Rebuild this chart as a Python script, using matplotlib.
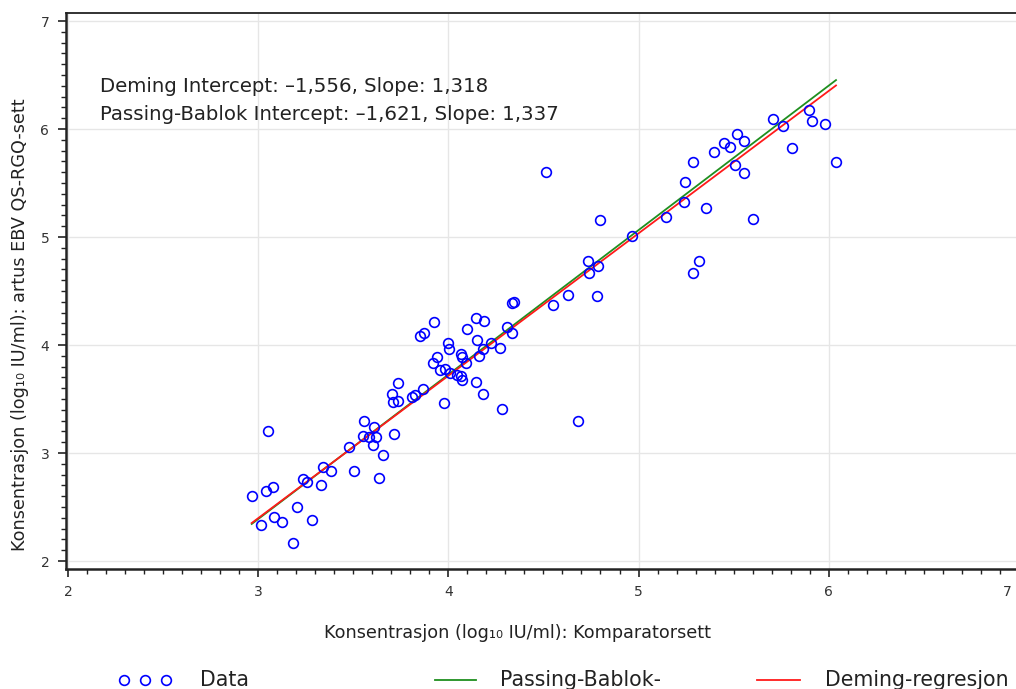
import numpy as np
import matplotlib
matplotlib.use("Agg")
import matplotlib.pyplot as plt
from matplotlib.lines import Line2D
from matplotlib.transforms import ScaledTranslation

# data (log10 IU/ml)
comp_x = [3.733, 3.703, 3.710, 3.733, 3.810, 3.824, 3.868, 3.977, 4.070, 4.145,
          3.053, 3.558, 3.610, 3.549, 3.584, 3.619, 3.602, 3.714, 3.479, 3.654,
          3.339, 3.382, 3.502, 3.635, 3.237, 3.255, 3.328, 3.079, 3.042, 2.965,
          3.202, 3.083, 3.123, 3.281, 3.013, 3.184, 4.347, 4.335, 4.549, 4.628,
          4.780, 3.924, 3.851, 3.873, 4.144, 4.189, 4.099, 4.307, 4.336, 3.998,
          4.003, 4.149, 4.223, 4.180, 4.271, 3.938, 3.917, 4.068, 4.072, 4.159,
          4.093, 3.956, 3.981, 4.008, 4.047, 4.068, 4.184, 4.282, 4.682, 4.513,
          4.797, 4.733, 4.785, 4.738, 5.898, 5.914, 5.980, 5.709, 5.759, 5.806,
          6.039, 5.520, 5.450, 5.481, 5.555, 5.399, 5.287, 5.508, 5.553, 5.246,
          5.239, 5.146, 5.354, 5.604, 4.966, 5.320, 5.288]
artus_y = [3.651, 3.546, 3.469, 3.484, 3.521, 3.537, 3.590, 3.466, 3.676, 3.657,
           3.204, 3.294, 3.244, 3.157, 3.151, 3.145, 3.074, 3.176, 3.053, 2.981,
           2.868, 2.836, 2.836, 2.771, 2.762, 2.731, 2.704, 2.682, 2.648, 2.602,
           2.497, 2.410, 2.361, 2.380, 2.333, 2.164, 4.401, 4.386, 4.368, 4.463,
           4.454, 4.213, 4.086, 4.114, 4.250, 4.219, 4.145, 4.169, 4.108, 4.021,
           3.963, 4.046, 4.021, 3.963, 3.969, 3.886, 3.831, 3.917, 3.886, 3.901,
           3.831, 3.769, 3.775, 3.738, 3.722, 3.716, 3.546, 3.410, 3.299, 5.605,
           5.155, 4.781, 4.731, 4.669, 6.176, 6.074, 6.049, 6.095, 6.028, 5.821,
           5.697, 5.954, 5.873, 5.836, 5.886, 5.784, 5.694, 5.667, 5.593, 5.506,
           5.324, 5.185, 5.269, 5.169, 5.006, 4.778, 4.667]

deming_icpt, deming_slope = -1.556, 1.318
pb_icpt, pb_slope = -1.621, 1.337
ticks = [2, 3, 4, 5, 6, 7]

W, H = 1016, 689
fig = plt.figure(figsize=(W/100, H/100), dpi=100)
ax = fig.add_axes([66/W, 1 - 568.7/H, 954/W, 556.2/H])

xs = np.array([min(comp_x), max(comp_x)])
ax.plot(xs, pb_icpt + pb_slope*xs, color="#1f8f1f", lw=1.3, zorder=3)
ax.plot(xs, deming_icpt + deming_slope*xs, color="#ff1a1a", lw=1.3, zorder=4)
ax.plot(comp_x, artus_y, 'o', mfc='none', mec='#0000ff', ms=7, mew=1.2, zorder=5)

ax.set_xlim(1.988, 7.007)
ax.set_ylim(1.929, 7.079)
ax.set_xticks(ticks)
ax.set_yticks(ticks)
ax.set_xticks(np.arange(2, 7.01, 0.1), minor=True)
ax.set_yticks(np.arange(2, 7.01, 0.1), minor=True)
ax.grid(True, which='major', color='#e6e6e6', lw=1)
ax.set_axisbelow(True)
ax.tick_params(which='major', length=6, width=1.2, color='#222222', labelsize=10,
               labelcolor='#333333', pad=6)
ax.tick_params(which='minor', length=3.5, width=1, color='#222222')
for s in ['left', 'bottom']:
    ax.spines[s].set_linewidth(1.8)
    ax.spines[s].set_color('#222222')
ax.spines['top'].set_linewidth(1.3)
ax.spines['top'].set_color('#222222')
ax.spines['right'].set_visible(False)

fig.text(100/W, 1 - 87/H, "Deming Intercept: \u20131,556, Slope: 1,318",
         fontsize=14.2, va='center', color='#222222')
fig.text(100/W, 1 - 114/H, "Passing-Bablok Intercept: \u20131,621, Slope: 1,337",
         fontsize=14.2, va='center', color='#222222')

fig.text(518/W, 1 - 633/H, "Konsentrasjon (log\u2081\u2080 IU/ml): Komparatorsett",
         ha='center', va='center', fontsize=12.7, color='#222222')
fig.text(20/W, 1 - 325/H, "Konsentrasjon (log\u2081\u2080 IU/ml): artus EBV QS-RGQ-sett",
         ha='center', va='center', rotation=90, fontsize=12.7, color='#222222')

# legend along the bottom edge
ly = 1 - 680/H
fig.add_artist(Line2D([124/W, 145/W, 166/W], [ly, ly, ly], ls='none', marker='o',
                      mfc='none', mec='#0000ff', ms=7, mew=1.2))
fig.text(200/W, ly, "Data", va='center', fontsize=14.8, color='#222222')
fig.add_artist(Line2D([435/W, 476/W], [ly, ly], color='#1f8f1f', lw=1.3))
fig.text(500/W, ly, "Passing-Bablok-", va='center', fontsize=14.8, color='#222222')
fig.add_artist(Line2D([757/W, 800/W], [ly, ly], color='#ff1a1a', lw=1.3))
fig.text(825/W, ly, "Deming-regresjon", va='center', fontsize=14.8, color='#222222')

# last x tick label sits at the figure edge, nudge it inside
fig.canvas.draw()
lab7 = ax.xaxis.get_majorticklabels()[-1]
lab7.set_horizontalalignment('right')
lab7.set_transform(lab7.get_transform() + ScaledTranslation(-5/72, 0, fig.dpi_scale_trans))

fig.savefig("out.png", dpi=100)
